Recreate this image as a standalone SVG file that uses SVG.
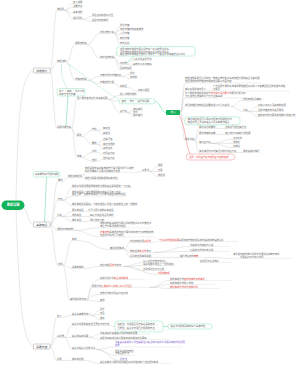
<svg xmlns="http://www.w3.org/2000/svg" width="300" height="366" viewBox="0 0 300 366">
<style>
text{font-family:"Noto Sans CJK SC","Noto Sans",sans-serif;font-size:2.35px;fill:#6a6a6a}
.r{fill:#e8453c}
.p{fill:#8061cf}
.w{fill:#fff;font-size:3.2px;font-weight:bold;text-anchor:middle}
.h{font-size:2.8px;fill:#444;text-anchor:middle}
.u{stroke:#d4d4d4;stroke-width:.35;fill:none}
.c{stroke:#c8c8c8;stroke-width:.4;fill:none}
.gl{stroke:#5ad69a;stroke-width:.5;fill:none}
.gd{stroke:#5ad69a;stroke-width:.45;fill:none;stroke-dasharray:1.4 .9}
.rl{stroke:#f07070;stroke-width:.5;fill:none}
.gb{fill:#fff;stroke:#8ee3b8;stroke-width:.5}
.rb{fill:#fff;stroke:#f08a8a;stroke-width:.5}
.l1{fill:#fff;stroke:#8a8a8a;stroke-width:.4}
</style>
<rect width="300" height="366" fill="#fff"/>
<g id="connectors">
<path class="c" d="M16 200C18 120 20 75 33.5 70.5M23 207C28 210 28 224.5 33.5 224.5M16 210C19 290 21 340 33.5 346.5"/>
<path class="c" d="M50 70.5C53.5 70.5 53.5 10.4 57 10.4M50 70.5C53.5 70.5 53.5 62.4 57 62.4M50 70.5C53.5 70.5 53.5 128.4 57 128.4"/>
<path class="c" d="M64.2 10.4C68.6 10.4 68.6 3.4 73 3.4M64.2 10.4C68.6 10.4 68.6 7.4 73 7.4M64.2 10.4C68.6 10.4 68.6 13.4 73 13.4M64.2 10.4C68.6 10.4 68.6 19.4 73 19.4M82.6 19.4C87.3 19.4 87.3 16.4 92 16.4M82.6 19.4C87.3 19.4 87.3 21.4 92 21.4"/>
<path class="c" d="M66.6 62.4C70.8 62.4 70.8 44.4 75 44.4M66.6 62.4C70.8 62.4 70.8 80.4 75 80.4M87 44.4C93.5 44.4 93.5 33.4 100 33.4M87 44.4C93.5 44.4 93.5 58.4 100 58.4"/>
<path class="c" d="M114.4 33.4C117.2 33.4 117.2 26.4 120 26.4M114.4 33.4C117.2 33.4 117.2 30.4 120 30.4M114.4 33.4C117.2 33.4 117.2 34.4 120 34.4M114.4 33.4C117.2 33.4 117.2 39.4 120 39.4M114.4 33.4C117.2 33.4 117.2 44.4 120 44.4"/>
<path class="c" d="M114.4 58.4C115.7 58.4 115.7 51.3 117 51.3M114.4 58.4C117.2 58.4 117.2 64.4 120 64.4M114.4 58.4C117.2 58.4 117.2 69.4 120 69.4M127.2 64.4C130.1 64.4 130.1 60.4 133 60.4M127.2 64.4C130.1 64.4 130.1 65.4 133 65.4"/>
<path class="c" d="M87 80.4C93.5 80.4 93.5 76.4 100 76.4M87 80.4C93.5 80.4 93.5 83.4 100 83.4M121.6 76.4C125.8 76.4 125.8 74.4 130 74.4M121.6 76.4C125.8 76.4 125.8 78.4 130 78.4M114.4 83.4C117.2 83.4 117.2 87.4 120 87.4M127.2 87.4C132.6 87.4 132.6 91.4 138 91.4"/>
<path class="c" d="M71.4 128.4C74.2 128.4 74.2 99.4 77 99.4M71.4 128.4C74.2 128.4 74.2 136.4 77 136.4M71.4 128.4C74.2 128.4 74.2 157.4 77 157.4"/>
<path class="c" d="M108.2 99.4C114 99.4 114 95.4 120 95.4M108.2 99.4C113.6 99.4 113.6 101.3 119 101.3M108.2 99.4C114 99.4 114 112.4 120 112.4M127.2 112.4C130.1 112.4 130.1 110.4 133 110.4M127.2 112.4C130.1 112.4 130.1 113.4 133 113.4M127.2 112.4C130.1 112.4 130.1 116.4 133 116.4"/>
<path class="c" d="M81.8 136.4C86.9 136.4 86.9 130.4 92 130.4M81.8 136.4C86.9 136.4 86.9 144.4 92 144.4M96.8 130.4C99.9 130.4 99.9 129.4 103 129.4M96.8 130.4C99.9 130.4 99.9 134.4 103 134.4M96.8 144.4C99.9 144.4 99.9 140.4 103 140.4M96.8 144.4C99.9 144.4 99.9 145.4 103 145.4M96.8 144.4C99.9 144.4 99.9 149.4 103 149.4"/>
<path class="c" d="M81.8 157.4C86.9 157.4 86.9 152.4 92 152.4M81.8 157.4C86.9 157.4 86.9 161.4 92 161.4M96.8 152.4C99.9 152.4 99.9 154.4 103 154.4M96.8 161.4C99.9 161.4 99.9 159.4 103 159.4"/>
<path class="c" d="M180 112.5C182.5 112.5 182.5 83 185 83M180 112.5C182.5 112.5 182.5 90.4 185 90.4M180 112.5C182.5 112.5 182.5 98 185 98M180 112.5C182.5 112.5 182.5 106.4 185 106.4M180 112.5C182.5 112.5 182.5 120.8 185 120.8M180 112.5C182.5 112.5 182.5 140.4 185 140.4"/>
<path class="c" d="M206.6 90.4C209.8 90.4 209.8 91 213 91M230.6 106.4C236.8 106.4 236.8 100.4 243 100.4M230.6 106.4C236.8 106.4 236.8 111.4 243 111.4M247.8 111.4C252.9 111.4 252.9 106.4 258 106.4M247.8 111.4H258M247.8 111.4C252.9 111.4 252.9 116.4 258 116.4"/>
<path class="c" d="M194.6 140.4C196.8 140.4 196.8 128.4 199 128.4M194.6 140.4C196.8 140.4 196.8 134.4 199 134.4M194.6 140.4C196.8 140.4 196.8 143.4 199 143.4M194.6 140.4C196.8 140.4 196.8 152.4 199 152.4M215.8 128.4H225M215.8 134.4H225M211 143.4C222 143.4 222 139.4 233 139.4M211 143.4H233M211 143.4C222 143.4 222 147.4 233 147.4M235 152.4H243"/>
<path class="c" d="M50 224.5C54 224.5 54 181.4 58 181.4M50 224.5C54 224.5 54 200.4 58 200.4M50 224.5C54 224.5 54 216.4 57 216.4M50 224.5C54 224.5 54 230.4 57 230.4M50 224.5C54 224.5 54 265.4 58 265.4"/>
<path class="c" d="M62.8 181.4C65.4 181.4 65.4 177.4 68 177.4M82.4 177.4C83.7 177.4 83.7 172.6 85 172.6M82.4 177.4C83.7 177.4 83.7 179.4 85 179.4M135.4 172.6C138.7 172.6 138.7 171.4 142 171.4M149.2 171.4C153.6 171.4 153.6 166.4 158 166.4M149.2 171.4H158M149.2 171.4C153.6 171.4 153.6 176.4 158 176.4"/>
<path class="c" d="M62.8 200.4C67.4 200.4 67.4 187.4 72 187.4M62.8 200.4C67.4 200.4 67.4 196.2 72 196.2M62.8 200.4C67.4 200.4 67.4 205.4 72 205.4M61.8 216.4C66.9 216.4 66.9 211.4 72 211.4M61.8 216.4H72M61.8 216.4C66.9 216.4 66.9 221.4 72 221.4M84 211.4H88M81.6 216.4H90M81.6 221.4H90"/>
<path class="c" d="M73.8 230.4C86.9 230.4 86.9 227.8 100 227.8M73.8 230.4C86.9 230.4 86.9 236.8 100 236.8"/>
<path class="c" d="M62.8 265.4C67.4 265.4 67.4 240.4 72 240.4M62.8 265.4C67.4 265.4 67.4 268.4 72 268.4M62.8 265.4C66.4 265.4 66.4 300.4 70 300.4M76.8 240.4C93.4 240.4 93.4 249.4 110 249.4M124.4 249.4C127.2 249.4 127.2 242.4 130 242.4M124.4 249.4C127.2 249.4 127.2 252.4 130 252.4M124.4 249.4C127.2 249.4 127.2 257.4 130 257.4"/>
<path class="c" d="M154 242.4C156 242.4 156 241.4 158 241.4M154 252.4C172 252.4 172 246.4 190 246.4M154 252.4C172 252.4 172 251.4 190 251.4M154 257.4C167 257.4 167 257.4 180 257.4M207 257.4C220 257.4 220 258.4 233 258.4M207 257.4C203 257.4 203 262.4 200 262.4"/>
<path class="c" d="M84 268.4C92 268.4 92 266.4 100 266.4M124 266.4C133.5 266.4 133.5 262.4 143 262.4M124 266.4C133.5 266.4 133.5 265.4 143 265.4M124 266.4C133.5 266.4 133.5 270.4 143 270.4M124 266.4C141 266.4 141 274.4 158 274.4"/>
<path class="c" d="M86.8 300.4C89 300.4 89 279.4 100 279.4M86.8 300.4C89 300.4 89 287.4 92 287.4M86.8 300.4C89 300.4 89 294.4 100 294.4M86.8 300.4C93 300.4 93 301.4 100 301.4M150 287.4C160 287.4 160 280.4 170 280.4M150 287.4C160 287.4 160 284.4 170 284.4M150 287.4C160 287.4 160 288.4 170 288.4"/>
<path class="c" d="M50 346.5C53.5 346.5 53.5 317.4 57 317.4M50 346.5C53.5 346.5 53.5 337.4 57 337.4M50 346.5C53.5 346.5 53.5 360.4 57 360.4"/>
<path class="c" d="M61.8 317.4C66.9 317.4 66.9 315.4 72 315.4M91.2 315.4C95.6 315.4 95.6 310.4 100 310.4M91.2 315.4C95.6 315.4 95.6 314.4 100 314.4M91.2 315.4C95.6 315.4 95.6 319.4 100 319.4"/>
<path class="c" d="M64.2 337.4C68.1 337.4 68.1 325.4 72 325.4M64.2 337.4H72M64.2 337.4C68.1 337.4 68.1 349.4 72 349.4M110.4 325.4C112.7 325.4 112.7 326.5 115 326.5M88.8 337.4C94.4 337.4 94.4 334.4 100 334.4M88.8 337.4C94.4 337.4 94.4 339.4 100 339.4"/>
<path class="c" d="M96 349.4C105.5 349.4 105.5 346.8 115 346.8M96 349.4C105.5 349.4 105.5 355.4 115 355.4M96 349.4C108 349.4 108 360.4 120 360.4M61.8 360.4C66.9 360.4 66.9 360.4 72 360.4M84 360.4C92 360.4 92 363.4 100 363.4"/>
<path class="gl" d="M68 96L66 125.5M127 62.5L134 56M155 101.3C160.5 101.3 160.5 112.5 166 112.5M46.5 177L44.5 222M163 326.5H168"/>
<path class="gd" d="M62 63.8C60 75 64 84 68 88.5M68 63.8C80 72 95 85 119 99.5"/>
<path class="rl" d="M179 115C185 125 186 145 190 154"/>
</g>
<g id="root"><rect x="1.5" y="200.5" width="23" height="9.5" rx="4.75" fill="#13b35b"/><text class="w" x="13" y="206.4">思维导图</text></g>
<g id="l1a"><rect class="l1" x="33.5" y="68" width="16.5" height="5" rx=".4"/><text class="h" x="41.75" y="71.5">组成部分</text></g>
<g id="l1b"><rect class="l1" x="33.5" y="222" width="16.5" height="5" rx=".4"/><text class="h" x="41.75" y="225.5">基础知识</text></g>
<g id="l1c"><rect class="l1" x="33.5" y="344" width="16.5" height="5" rx=".4"/><text class="h" x="41.75" y="347.5">拓展内容</text></g>
<g id="A"><text x="57" y="9.9">数据项</text><path class="u" d="M57 10.4h7.2"/></g>
<g id="A1"><text x="73" y="2.9">定义说明</text><path class="u" d="M73 3.4h9.6"/></g>
<g id="A2"><text x="73" y="6.9">主要特点</text><path class="u" d="M73 7.4h9.6"/></g>
<g id="A3"><text x="73" y="12.9">基本结构</text><path class="u" d="M73 13.4h9.6"/></g>
<g id="A4"><text x="73" y="18.9">相关属性</text><path class="u" d="M73 19.4h9.6"/></g>
<g id="A4a"><text x="92" y="15.9">属性名称和取值范围</text><path class="u" d="M92 16.4h21.6"/></g>
<g id="A4b"><text x="92" y="20.9">类型与约束条件</text><path class="u" d="M92 21.4h16.8"/></g>
<g id="B"><text x="57" y="61.9">数据结构</text><path class="u" d="M57 62.4h9.6"/></g>
<g id="B1"><text x="75" y="43.9">逻辑结构类</text><path class="u" d="M75 44.4h12"/></g>
<g id="B1a"><text x="100" y="32.9">线性结构分类</text><path class="u" d="M100 33.4h14.4"/></g>
<g id="B1a1"><text x="120" y="25.9">顺序存储</text><path class="u" d="M120 26.4h9.6"/></g>
<g id="B1a2"><text x="120" y="29.9">链式存储结构基本操作</text><path class="u" d="M120 30.4h24"/></g>
<g id="B1a3"><text x="120" y="33.9">索引存储</text><path class="u" d="M120 34.4h9.6"/></g>
<g id="B1a4"><text x="120" y="38.9">散列存储</text><path class="u" d="M120 39.4h9.6"/></g>
<g id="B1a5"><text x="120" y="43.9">栈与队列</text><path class="u" d="M120 44.4h9.6"/></g>
<g id="B1b"><text x="100" y="57.9">非线性结构类</text><path class="u" d="M100 58.4h14.4"/></g>
<g id="B1box"><rect class="gb" x="117" y="46.5" width="78" height="9.6" rx="2.5"/><text x="120" y="49.8">树形结构中数据元素之间存在一对多的层次关系</text><text x="120" y="52.5">图形结构中数据元素之间存在多对多的任意关系</text><text x="120" y="55.2">集合结构中的数据元素除了同属于一个集合外没有其他任何关系</text></g>
<g id="B1b2"><text x="120" y="63.9">树结构</text><path class="u" d="M120 64.4h7.2"/></g>
<g id="B1b2a"><text x="133" y="59.9">二叉树及遍历方法</text><path class="u" d="M133 60.4h19.2"/></g>
<g id="B1b2b"><text x="133" y="64.9">森林与二叉树转换</text><path class="u" d="M133 65.4h19.2"/></g>
<g id="B1b3"><text x="120" y="68.9">图结构类型</text><path class="u" d="M120 69.4h12"/></g>
<g id="B2"><text x="75" y="79.9">存储结构类</text><path class="u" d="M75 80.4h12"/></g>
<g id="B2a"><text x="100" y="75.9">存储方式与存储密度</text><path class="u" d="M100 76.4h21.6"/></g>
<g id="B2a1"><text x="130" y="73.9">顺序</text><path class="u" d="M130 74.4h4.8"/></g>
<g id="B2a2"><text x="130" y="77.9">链式的</text><path class="u" d="M130 78.4h7.2"/></g>
<g id="B2b"><text x="100" y="82.9">存储空间分配</text><path class="u" d="M100 83.4h14.4"/></g>
<g id="B2b1"><text x="120" y="86.9">静态区</text><path class="u" d="M120 87.4h7.2"/></g>
<g id="B2b1a"><text x="138" y="90.9">动态分配区</text><path class="u" d="M138 91.4h12"/></g>
<g id="Cbox"><rect class="gb" x="57" y="88.5" width="28" height="7.5" rx="2.2"/><text x="59" y="91.6">定义 · 实现 · 评价分析</text><text x="59" y="94.6">基本方法与步骤</text></g>
<g id="C"><text x="57" y="127.9">运算与操作集</text><path class="u" d="M57 128.4h14.4"/></g>
<g id="C1"><text x="77" y="98.9">插入删除查找修改等基本运算</text><path class="u" d="M77 99.4h31.2"/></g>
<g id="C1a"><text x="120" y="94.9">插入与删除操作</text><path class="u" d="M120 95.4h16.8"/></g>
<g id="C1box"><rect class="gb" x="119" y="98.8" width="36" height="5" rx="2.2"/><text x="121.5" y="102.1">查找 · 排序 · 遍历等运算</text></g>
<g id="C1c"><text x="120" y="111.9">复杂度</text><path class="u" d="M120 112.4h7.2"/></g>
<g id="C1c1"><text x="133" y="109.9">最好情况</text><path class="u" d="M133 110.4h9.6"/></g>
<g id="C1c2"><text x="133" y="112.9">平均</text><path class="u" d="M133 113.4h4.8"/></g>
<g id="C1c3"><text x="133" y="115.9">最坏情况</text><path class="u" d="M133 116.4h9.6"/></g>
<g id="C2"><text x="77" y="135.9">算法</text><path class="u" d="M77 136.4h4.8"/></g>
<g id="C2a"><text x="92" y="129.9">特性</text><path class="u" d="M92 130.4h4.8"/></g>
<g id="C2a1"><text x="103" y="128.9">有穷性</text><path class="u" d="M103 129.4h7.2"/></g>
<g id="C2a2"><text x="103" y="133.9">确定性</text><path class="u" d="M103 134.4h7.2"/></g>
<g id="C2b"><text x="92" y="143.9">要求</text><path class="u" d="M92 144.4h4.8"/></g>
<g id="C2b1"><text x="103" y="139.9">正确可读</text><path class="u" d="M103 140.4h9.6"/></g>
<g id="C2b2"><text x="103" y="144.9">健壮性强的</text><path class="u" d="M103 145.4h12"/></g>
<g id="C2b3"><text x="103" y="148.9">高效低存</text><path class="u" d="M103 149.4h9.6"/></g>
<g id="C3"><text x="77" y="156.9">效率</text><path class="u" d="M77 157.4h4.8"/></g>
<g id="C3a"><text x="92" y="151.9">时间</text><path class="u" d="M92 152.4h4.8"/></g>
<g id="C3a1"><text x="103" y="153.9">时间复杂度</text><path class="u" d="M103 154.4h12"/></g>
<g id="C3b"><text x="92" y="160.9">空间</text><path class="u" d="M92 161.4h4.8"/></g>
<g id="C3b1"><text x="103" y="158.9">空间复杂度</text><path class="u" d="M103 159.4h12"/></g>
<g id="G"><rect x="166" y="110" width="14" height="5" rx="1" fill="#13b35b"/><text x="173" y="113.4" style="fill:#fff;text-anchor:middle;font-size:2.6px">核心</text></g>
<g id="G1"><text x="185" y="79.2">数据结构是相互之间存在一种或多种特定关系的数据元素的集合及其运算</text><text x="185" y="82">包括逻辑结构存储结构和数据运算三方面内容</text><path class="u" d="M185 83h77"/></g>
<g id="G2"><text x="185" y="89.9">实际应用领域与意义</text><path class="u" d="M185 90.4h21.6"/></g>
<g id="G2a"><text x="213" y="87.2">广泛应用于操作系统编译原理数据库系统人工智能图形图像处理等领域</text><text x="213" y="90">计算机</text><path class="u" d="M213 91h77"/></g>
<g id="G3"><text x="185" y="94.2">学习数据结构的目的在于<tspan class="r">提升程序设计能力</tspan>与算法分析水平</text><text x="185" y="97">为后续专业课程的学习打下坚实基础</text><path class="u" d="M185 98h63"/></g>
<g id="G4"><text x="185" y="105.9">常见的数据结构类型主要包括以下几大类别</text><path class="u" d="M185 106.4h45.6"/></g>
<g id="G4a"><text x="243" y="99.9">线性表栈队列串等</text><path class="u" d="M243 100.4h19.2"/></g>
<g id="G4b"><text x="243" y="110.9">分类</text><path class="u" d="M243 111.4h4.8"/></g>
<g id="G4b1"><text x="258" y="105.9">树和二叉树以及森林的应用</text><path class="u" d="M258 106.4h28.8"/></g>
<g id="G4b2"><text x="258" y="110.9">图的存储结构与遍历算法</text><path class="u" d="M258 111.4h26.4"/></g>
<g id="G4b3"><text x="258" y="115.9">查找表与排序算法的性能分析和比较</text><path class="u" d="M258 116.4h38.4"/></g>
<g id="G5"><rect class="gb" x="185" y="116.8" width="55" height="8" rx="2.5"/><text x="187.5" y="120.1">抽象数据类型可以用三元组表示即数据对象</text><text x="187.5" y="123">数据对象上关系的集合以及基本操作集合</text></g>
<g id="G6"><text x="185" y="139.9">相关内容</text><path class="u" d="M185 140.4h9.6"/></g>
<g id="G6a"><text x="199" y="127.9">算法设计的要求</text><path class="u" d="M199 128.4h16.8"/></g>
<g id="G6a1"><text x="225" y="127.9">正确性可读性健壮性</text><path class="u" d="M225 128.4h21.6"/></g>
<g id="G6b"><text x="199" y="133.9">算法效率的度量</text><path class="u" d="M199 134.4h16.8"/></g>
<g id="G6b1"><text x="225" y="133.9">事后统计与事前分析估算</text><path class="u" d="M225 134.4h24"/></g>
<g id="G6c"><text x="199" y="142.9">渐近复杂度</text><path class="u" d="M199 143.4h12"/></g>
<g id="G6c1"><text x="233" y="138.9">大O记法</text><path class="u" d="M233 139.4h8.5"/></g>
<g id="G6c2"><text x="233" y="142.9">常数阶</text><path class="u" d="M233 143.4h7.2"/></g>
<g id="G6c3"><text x="233" y="146.9">对数阶</text><path class="u" d="M233 147.4h7.2"/></g>
<g id="G6d"><text x="199" y="151.9">最坏情况与平均情况下的时间复杂度</text><path class="u" d="M199 152.4h36"/></g>
<g id="G6d1"><text x="243" y="151.9">通常指最坏情况</text><path class="u" d="M243 152.4h16.8"/></g>
<g id="Gred"><rect class="rb" x="186" y="154" width="49" height="6" rx="3"/><text class="r" x="189" y="157.8">注意：时间复杂度与空间复杂度的权衡</text></g>
<g id="Dbox"><rect class="gb" x="33" y="171.5" width="27" height="5.5" rx="2.5"/><text x="35" y="175.1">基本概念和术语的说明</text></g>
<g id="D1"><text x="58" y="180.9">概述</text><path class="u" d="M58 181.4h4.8"/></g>
<g id="D1a"><text x="68" y="176.9">数据和数据项</text><path class="u" d="M68 177.4h14.4"/></g>
<g id="D1a1"><text x="85" y="168.9">数据是描述客观事物的符号是计算机中可以操作</text><text x="85" y="171.6">的对象能输入计算机并被程序处理</text><path class="u" d="M85 172.6h50.4"/></g>
<g id="D1a1a"><text x="142" y="170.9">三层次</text><path class="u" d="M142 171.4h7.2"/></g>
<g id="D1a1a1"><text x="158" y="165.9">数据</text><path class="u" d="M158 166.4h4.8"/></g>
<g id="D1a1a2"><text x="158" y="170.9">元素</text><path class="u" d="M158 171.4h4.8"/></g>
<g id="D1a1a3"><text x="158" y="175.9">数据项</text><path class="u" d="M158 176.4h7.2"/></g>
<g id="D1a2"><text x="85" y="178.9">数据元素是组成数据的基本单位</text><path class="u" d="M85 179.4h33.6"/></g>
<g id="D2"><text x="58" y="199.9">特点</text><path class="u" d="M58 200.4h4.8"/></g>
<g id="D2a"><text x="72" y="186.9">数据对象是性质相同的数据元素的集合是数据的一个子集</text><path class="u" d="M72 187.4h60"/></g>
<g id="D2b"><text x="72" y="192.5">数据类型是一组性质相同的值的集合及定义在此</text><text x="72" y="195.3">集合上的一些操作的总称可分为原子类型和结构类型</text><path class="u" d="M72 196.2h55.2"/></g>
<g id="D2c"><text x="72" y="204.9">抽象数据类型是指一个数学模型以及定义在该模型上的一组操作</text><path class="u" d="M72 205.4h67.2"/></g>
<g id="D3"><text x="57" y="215.9">分类</text><path class="u" d="M57 216.4h4.8"/></g>
<g id="D3a"><text x="72" y="210.9">原子的类型</text><path class="u" d="M72 211.4h12"/></g>
<g id="D3a1"><text x="88" y="210.9">不可以再分解的基本类型</text><path class="u" d="M88 211.4h26.4"/></g>
<g id="D3b"><text x="72" y="215.9">结构类型</text><path class="u" d="M72 216.4h9.6"/></g>
<g id="D3b1"><text x="90" y="215.9">由若干类型组合而成的</text><path class="u" d="M90 216.4h24"/></g>
<g id="D3c"><text x="72" y="220.9">抽象类型</text><path class="u" d="M72 221.4h9.6"/></g>
<g id="D3c1"><text x="90" y="220.9">用户自定义的</text><path class="u" d="M90 221.4h14.4"/></g>
<g id="D4"><text x="57" y="229.9">逻辑与存储结构</text><path class="u" d="M57 230.4h16.8"/></g>
<g id="D4a"><text x="100" y="224">逻辑结构是指数据元素之间的逻辑关系与存储无关</text><text x="100" y="226.8">独立于计算机的数学模型</text><path class="u" d="M100 227.8h52.8"/></g>
<g id="D4b"><text x="100" y="233"><tspan class="r">存储结构</tspan>是数据结构在计算机中的表示也称物理结构</text><text x="100" y="235.8">包括顺序链式索引散列</text><path class="u" d="M100 236.8h55.2"/></g>
<g id="D5"><text x="58" y="264.9">应用</text><path class="u" d="M58 265.4h4.8"/></g>
<g id="D5a"><text x="72" y="239.9">实例</text><path class="u" d="M72 240.4h4.8"/></g>
<g id="D5a1"><text x="110" y="248.9">典型应用实例</text><path class="u" d="M110 249.4h14.4"/></g>
<g id="D5a1a"><text x="130" y="241.9">线性表的应用<tspan class="r">多项式</tspan></text><path class="u" d="M130 242.4h24"/></g>
<g id="D5a1a1"><text x="158" y="240.9"><tspan class="r">一元多项式相加运算</tspan>采用链表存储各项系数与指数并按指数合并</text><path class="u" d="M158 241.4h80"/></g>
<g id="D5a1b"><text x="130" y="251.9">栈的应用<tspan class="r">表达式</tspan>求值</text><path class="u" d="M130 252.4h24"/></g>
<g id="D5a1b1"><text x="190" y="245.9">中缀表达式转换为后缀</text><path class="u" d="M190 246.4h40"/></g>
<g id="D5a1b2"><text x="190" y="250.9">后缀表达式求值的过程</text><path class="u" d="M190 251.4h40"/></g>
<g id="D5a1c"><text x="130" y="256.9">队列的应用举例说明</text><path class="u" d="M130 257.4h24"/></g>
<g id="D5a1c1"><text x="180" y="256.9">银行排队模拟<tspan class="r">离散</tspan></text><path class="u" d="M180 257.4h27"/></g>
<g id="D5a1c1a"><text x="233" y="255">事件驱动模拟按时间顺序处理到达和离开事件</text><text x="240" y="257.6">计算客户平均等待时间</text><path class="u" d="M233 258.4h59"/></g>
<g id="D5a1c1b"><text x="200" y="261.9">缓冲区与任务调度</text><path class="u" d="M200 262.4h32"/></g>
<g id="D5b"><text x="72" y="267.9">具体的举例</text><path class="u" d="M72 268.4h12"/></g>
<g id="D5b1"><text x="100" y="265.9">迷宫求解<tspan class="r">回溯</tspan>与递归</text><path class="u" d="M100 266.4h24"/></g>
<g id="D5b1a"><text x="143" y="261.9">从入口出发按方向探索</text><path class="u" d="M143 262.4h24"/></g>
<g id="D5b1b"><text x="143" y="264.9">遇到死路时退回上一位置继续</text><path class="u" d="M143 265.4h33.6"/></g>
<g id="D5b1c"><text x="143" y="269.9">直到找到出口为止的</text><path class="u" d="M143 270.4h24"/></g>
<g id="D5b1d"><text class="r" x="158" y="273.9">利用栈实现</text><path class="u" d="M158 274.4h12"/></g>
<g id="D5c"><text x="70" y="299.9">其他相关的内容</text><path class="u" d="M70 300.4h16.8"/></g>
<g id="D5c1"><text x="100" y="278.9">在程序设计中<tspan class="r">集合类的实现</tspan></text><path class="u" d="M100 279.4h43"/></g>
<g id="D5c2"><text x="92" y="286.9">常用方法<tspan class="r">哈希表与二叉搜索树以及位图</tspan></text><path class="u" d="M92 287.4h58"/></g>
<g id="D5c2a"><text x="170" y="279.9">数组实现方式<tspan class="r">查找效率较低的情况</tspan></text><path class="u" d="M170 280.4h63"/></g>
<g id="D5c2b"><text x="170" y="283.9">链表实现方式插入较快</text><path class="u" d="M170 284.4h45"/></g>
<g id="D5c2c"><text class="r" x="170" y="287.9">散列实现方式平均常数时间</text><path class="u" d="M170 288.4h50"/></g>
<g id="D5c3"><text x="100" y="293.9">各种方法的时间复杂度比较</text><path class="u" d="M100 294.4h28.8"/></g>
<g id="D5c4"><text x="100" y="300.9">其他</text><path class="u" d="M100 301.4h4.8"/></g>
<g id="E1"><text x="57" y="316.9">定义</text><path class="u" d="M57 317.4h4.8"/></g>
<g id="E1a"><text x="72" y="314.9">集合基本概念定义</text><path class="u" d="M72 315.4h19.2"/></g>
<g id="E1a1"><text x="100" y="309.9">属于</text><path class="u" d="M100 310.4h4.8"/></g>
<g id="E1a2"><text x="100" y="313.9">包含</text><path class="u" d="M100 314.4h4.8"/></g>
<g id="E1a3"><text x="100" y="318.9">相等</text><path class="u" d="M100 319.4h4.8"/></g>
<g id="E2"><text x="57" y="336.9">三性质</text><path class="u" d="M57 337.4h7.2"/></g>
<g id="E2a"><text x="72" y="324.9">集合中元素的确定性互异性与无序性</text><path class="u" d="M72 325.4h38.4"/></g>
<g id="E2bound"><rect class="gb" x="115" y="321" width="48" height="11" rx="2.5"/><text x="117.5" y="324.6">确定性：元素是否属于集合是确定的</text><path class="u" d="M117.5 325.1h42"/><text x="117.5" y="329.4">互异性：集合中元素互不相同的特点</text><path class="u" d="M117.5 329.9h42"/></g>
<g id="E2sum"><rect class="gb" x="168" y="324" width="44" height="5" rx="2.5"/><text x="170.5" y="327.3">集合中元素所具有的三个基本特性</text></g>
<g id="E2b"><text x="72" y="336.9">集合的基本运算</text><path class="u" d="M72 337.4h16.8"/></g>
<g id="E2b1"><text x="100" y="333.9">交集并集补集差集以及对称差等运算</text><path class="u" d="M100 334.4h50"/></g>
<g id="E2b2"><text x="100" y="338.9">满足交换律结合律分配律和德摩根律等运算律</text><path class="u" d="M100 339.4h68"/></g>
<g id="E2c"><text x="72" y="348.9">集合与集合之间的关系</text><path class="u" d="M72 349.4h24"/></g>
<g id="E2c1"><text class="p" x="115" y="343.2">子集真子集相等以及空集是任何集合的子集等关系所具有的特殊性质</text><text class="p" x="115" y="345.9">性质</text><path class="u" d="M115 346.8h67"/></g>
<g id="E2c2"><text x="115" y="351.6">包含关系的传递性</text><text x="115" y="354.4">韦恩图表示法</text><path class="u" d="M115 355.4h20"/></g>
<g id="E2c3"><text class="p" x="120" y="359.9">图示法</text><path class="u" d="M120 360.4h7.2"/></g>
<g id="E3"><text x="57" y="359.9">应用</text><path class="u" d="M57 360.4h4.8"/></g>
<g id="E3a"><text x="72" y="359.9">实际的应用</text><path class="u" d="M72 360.4h12"/></g>
<g id="E3a1"><text x="100" y="362.9">集合在数学计算机科学数据库等领域中的广泛应用与实践</text><path class="u" d="M100 363.4h72"/></g>
</svg>
